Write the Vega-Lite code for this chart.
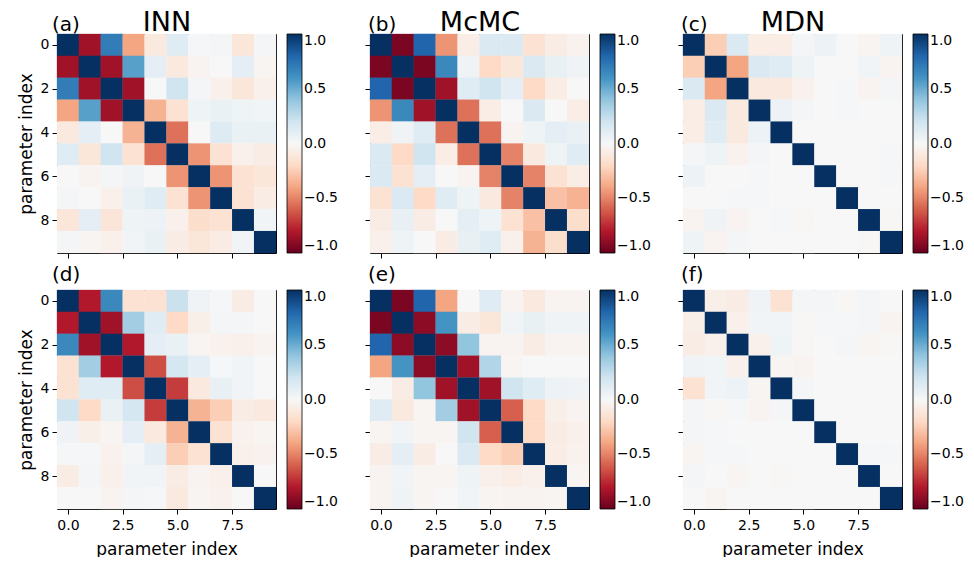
{
"$schema": "https://vega.github.io/schema/vega-lite/v6.json",
"padding": {"left": 17, "top": 8, "right": 0, "bottom": 0},
"background": "white",
"data": {"values": [
{"p":"a","r":0,"c":[0,1,2,3,4,5,6,7,8,9],"v":[1,-0.85,0.7,-0.4,-0.1,0.12,0.01,0.02,-0.12,0.02]},
{"p":"a","r":1,"c":[0,1,2,3,4,5,6,7,8,9],"v":[-0.85,1,-0.85,0.55,0.1,-0.1,-0.03,0.0,0.1,-0.02]},
{"p":"a","r":2,"c":[0,1,2,3,4,5,6,7,8,9],"v":[0.7,-0.85,1,-0.85,0.0,0.2,0.02,-0.05,-0.12,-0.05]},
{"p":"a","r":3,"c":[0,1,2,3,4,5,6,7,8,9],"v":[-0.4,0.55,-0.85,1,-0.35,-0.15,0.05,0.07,0.05,0.03]},
{"p":"a","r":4,"c":[0,1,2,3,4,5,6,7,8,9],"v":[-0.1,0.1,0.0,-0.35,1,-0.55,0.0,0.13,0.07,0.07]},
{"p":"a","r":5,"c":[0,1,2,3,4,5,6,7,8,9],"v":[0.12,-0.12,0.2,-0.15,-0.55,1,-0.45,-0.15,-0.05,-0.08]},
{"p":"a","r":6,"c":[0,1,2,3,4,5,6,7,8,9],"v":[0.0,-0.03,0.02,0.04,0.0,-0.45,1,-0.45,-0.15,-0.12]},
{"p":"a","r":7,"c":[0,1,2,3,4,5,6,7,8,9],"v":[0.02,0.0,-0.05,0.07,0.12,-0.15,-0.45,1,-0.15,-0.08]},
{"p":"a","r":8,"c":[0,1,2,3,4,5,6,7,8,9],"v":[-0.12,0.1,-0.13,0.05,0.06,-0.05,-0.18,-0.15,1,0.03]},
{"p":"a","r":9,"c":[0,1,2,3,4,5,6,7,8,9],"v":[0.02,-0.02,-0.05,0.03,0.07,-0.08,-0.12,-0.08,0.03,1]},
{"p":"b","r":0,"c":[0,1,2,3,4,5,6,7,8,9],"v":[1,-0.95,0.8,-0.45,-0.07,0.15,0.15,-0.15,-0.08,-0.04]},
{"p":"b","r":1,"c":[0,1,2,3,4,5,6,7,8,9],"v":[-0.95,1,-0.95,0.65,0.04,-0.2,-0.12,0.15,0.08,0.04]},
{"p":"b","r":2,"c":[0,1,2,3,4,5,6,7,8,9],"v":[0.8,-0.95,1,-0.85,0.12,0.2,0.1,-0.2,-0.07,0.0]},
{"p":"b","r":3,"c":[0,1,2,3,4,5,6,7,8,9],"v":[-0.45,0.65,-0.85,1,-0.55,-0.07,0.0,0.15,0.0,-0.07]},
{"p":"b","r":4,"c":[0,1,2,3,4,5,6,7,8,9],"v":[-0.07,0.04,0.12,-0.55,1,-0.55,-0.03,0.05,0.1,0.07]},
{"p":"b","r":5,"c":[0,1,2,3,4,5,6,7,8,9],"v":[0.15,-0.2,0.2,-0.07,-0.55,1,-0.5,-0.1,0.05,0.12]},
{"p":"b","r":6,"c":[0,1,2,3,4,5,6,7,8,9],"v":[0.15,-0.15,0.1,0.0,-0.03,-0.5,1,-0.5,-0.15,-0.07]},
{"p":"b","r":7,"c":[0,1,2,3,4,5,6,7,8,9],"v":[-0.15,0.15,-0.2,0.12,0.05,-0.1,-0.5,1,-0.3,-0.35]},
{"p":"b","r":8,"c":[0,1,2,3,4,5,6,7,8,9],"v":[-0.08,0.08,-0.08,0.0,0.1,0.05,-0.15,-0.3,1,-0.18]},
{"p":"b","r":9,"c":[0,1,2,3,4,5,6,7,8,9],"v":[-0.05,0.05,0.0,-0.08,0.08,0.12,-0.05,-0.35,-0.18,1]},
{"p":"c","r":0,"c":[0,1,2,3,4,5,6,7,8,9],"v":[1,-0.25,0.15,-0.07,-0.07,0.02,0.06,0.0,-0.02,0.05]},
{"p":"c","r":1,"c":[0,1,2,3,4,5,6,7,8,9],"v":[-0.25,1,-0.4,0.15,0.12,0.05,0.0,0.0,0.03,-0.03]},
{"p":"c","r":2,"c":[0,1,2,3,4,5,6,7,8,9],"v":[0.15,-0.4,1,-0.1,-0.1,-0.04,0.0,0.01,-0.03,0.02]},
{"p":"c","r":3,"c":[0,1,2,3,4,5,6,7,8,9],"v":[-0.07,0.15,-0.1,1,0.06,0.02,0.0,0.01,0.0,0.0]},
{"p":"c","r":4,"c":[0,1,2,3,4,5,6,7,8,9],"v":[-0.07,0.12,-0.1,0.06,1,0.0,0.0,0.0,0.0,0.0]},
{"p":"c","r":5,"c":[0,1,2,3,4,5,6,7,8,9],"v":[0.02,0.05,-0.04,0.02,0.0,1,0.0,0.0,0.0,0.01]},
{"p":"c","r":6,"c":[0,1,2,3,4,5,6,7,8,9],"v":[0.06,0.0,0.0,0.01,0.0,0.0,1,0.0,0.0,0.01]},
{"p":"c","r":7,"c":[0,1,2,3,4,5,6,7,8,9],"v":[0.0,0.0,0.01,0.01,0.0,0.0,0.0,1,0.0,0.0]},
{"p":"c","r":8,"c":[0,1,2,3,4,5,6,7,8,9],"v":[-0.03,0.04,-0.03,0.0,0.01,-0.01,0.0,0.0,1,-0.01]},
{"p":"c","r":9,"c":[0,1,2,3,4,5,6,7,8,9],"v":[0.05,-0.03,0.02,0.0,0.0,0.0,0.0,0.0,-0.01,1]},
{"p":"d","r":0,"c":[0,1,2,3,4,5,6,7,8,9],"v":[1,-0.8,0.65,-0.15,-0.15,0.22,0.04,0.01,-0.08,0.0]},
{"p":"d","r":1,"c":[0,1,2,3,4,5,6,7,8,9],"v":[-0.8,1,-0.85,0.35,0.12,-0.2,-0.06,0.02,0.02,0.0]},
{"p":"d","r":2,"c":[0,1,2,3,4,5,6,7,8,9],"v":[0.65,-0.85,1,-0.8,0.1,0.07,-0.02,-0.04,-0.05,-0.03]},
{"p":"d","r":3,"c":[0,1,2,3,4,5,6,7,8,9],"v":[-0.15,0.35,-0.8,1,-0.65,0.18,0.1,0.01,0.03,0.0]},
{"p":"d","r":4,"c":[0,1,2,3,4,5,6,7,8,9],"v":[-0.15,0.12,0.12,-0.65,1,-0.7,-0.1,0.08,0.03,0.0]},
{"p":"d","r":5,"c":[0,1,2,3,4,5,6,7,8,9],"v":[0.2,-0.2,0.07,0.18,-0.7,1,-0.35,-0.25,-0.08,-0.1]},
{"p":"d","r":6,"c":[0,1,2,3,4,5,6,7,8,9],"v":[0.04,-0.06,-0.02,0.1,-0.1,-0.35,1,-0.15,-0.04,-0.02]},
{"p":"d","r":7,"c":[0,1,2,3,4,5,6,7,8,9],"v":[0.01,0.01,-0.04,0.02,0.1,-0.25,-0.15,1,-0.05,-0.04]},
{"p":"d","r":8,"c":[0,1,2,3,4,5,6,7,8,9],"v":[-0.08,0.02,-0.05,0.03,0.03,-0.08,-0.03,-0.05,1,0.0]},
{"p":"d","r":9,"c":[0,1,2,3,4,5,6,7,8,9],"v":[0.0,0.0,-0.03,0.02,0.01,-0.1,-0.02,-0.04,0.0,1]},
{"p":"e","r":0,"c":[0,1,2,3,4,5,6,7,8,9],"v":[1,-0.95,0.8,-0.4,0.0,0.12,-0.03,-0.1,-0.03,-0.03]},
{"p":"e","r":1,"c":[0,1,2,3,4,5,6,7,8,9],"v":[-0.95,1,-0.9,0.6,-0.08,-0.12,0.03,0.08,0.04,0.04]},
{"p":"e","r":2,"c":[0,1,2,3,4,5,6,7,8,9],"v":[0.8,-0.9,1,-0.9,0.4,-0.03,-0.03,-0.08,-0.03,-0.03]},
{"p":"e","r":3,"c":[0,1,2,3,4,5,6,7,8,9],"v":[-0.4,0.6,-0.9,1,-0.85,0.3,-0.02,0.0,0.0,0.0]},
{"p":"e","r":4,"c":[0,1,2,3,4,5,6,7,8,9],"v":[0.0,-0.08,0.4,-0.85,1,-0.85,0.2,0.12,0.06,0.04]},
{"p":"e","r":5,"c":[0,1,2,3,4,5,6,7,8,9],"v":[0.12,-0.1,-0.02,0.35,-0.85,1,-0.6,-0.2,-0.06,-0.03]},
{"p":"e","r":6,"c":[0,1,2,3,4,5,6,7,8,9],"v":[-0.02,0.03,-0.02,-0.02,0.2,-0.6,1,-0.2,-0.08,-0.05]},
{"p":"e","r":7,"c":[0,1,2,3,4,5,6,7,8,9],"v":[-0.08,0.1,-0.08,0.0,0.15,-0.2,-0.25,1,-0.07,-0.04]},
{"p":"e","r":8,"c":[0,1,2,3,4,5,6,7,8,9],"v":[-0.03,0.03,-0.02,-0.02,0.05,-0.05,-0.07,-0.05,1,-0.02]},
{"p":"e","r":9,"c":[0,1,2,3,4,5,6,7,8,9],"v":[-0.03,0.04,-0.02,0.0,0.03,-0.02,-0.03,-0.03,-0.02,1]},
{"p":"f","r":0,"c":[0,1,2,3,4,5,6,7,8,9],"v":[1,-0.06,-0.08,0.04,-0.15,0.02,0.02,-0.01,0.02,0.0]},
{"p":"f","r":1,"c":[0,1,2,3,4,5,6,7,8,9],"v":[-0.06,1,-0.05,0.03,0.03,-0.01,0.01,0.01,0.02,-0.03]},
{"p":"f","r":2,"c":[0,1,2,3,4,5,6,7,8,9],"v":[-0.08,-0.05,1,-0.05,0.05,-0.01,0.0,0.02,-0.02,-0.01]},
{"p":"f","r":3,"c":[0,1,2,3,4,5,6,7,8,9],"v":[0.04,0.03,-0.05,1,-0.02,-0.03,0.0,0.0,0.0,0.0]},
{"p":"f","r":4,"c":[0,1,2,3,4,5,6,7,8,9],"v":[-0.15,0.03,0.06,-0.02,1,0.02,0.0,0.0,0.0,0.0]},
{"p":"f","r":5,"c":[0,1,2,3,4,5,6,7,8,9],"v":[0.02,-0.01,0.01,-0.03,0.02,1,0.0,0.0,0.0,0.0]},
{"p":"f","r":6,"c":[0,1,2,3,4,5,6,7,8,9],"v":[0.02,0.01,0.0,0.0,0.0,0.0,1,0.0,0.0,0.0]},
{"p":"f","r":7,"c":[0,1,2,3,4,5,6,7,8,9],"v":[-0.02,0.01,0.01,0.0,0.0,0.0,0.0,1,0.01,0.01]},
{"p":"f","r":8,"c":[0,1,2,3,4,5,6,7,8,9],"v":[0.02,0.0,-0.02,0.0,-0.01,0.0,0.0,0.0,1,0.0]},
{"p":"f","r":9,"c":[0,1,2,3,4,5,6,7,8,9],"v":[0.0,-0.02,0.0,0.0,0.0,0.0,0.0,0.0,0.0,1]}
]},
"transform": [{"flatten": ["c", "v"]}],
"config": {
  "font": "DejaVu Sans",
  "view": {"stroke": null},
  "axis": {"grid": false, "domain": true, "domainColor": "#000", "domainWidth": 1, "tickColor": "#000", "tickSize": 5, "tickWidth": 1, "labelFontSize": 14, "labelColor": "#000", "titleFontSize": 17, "titleFontWeight": "normal", "titleColor": "#000", "labelPadding": 3, "titlePadding": 5, "zindex": 1},
  "legend": {"gradientLength": 219, "gradientThickness": 15, "offset": 11, "padding": 0, "labelFontSize": 14, "labelColor": "#000", "labelOffset": 7, "labelBaseline": "middle", "gradientStrokeColor": "#000", "gradientStrokeWidth": 0.8},
  "title": {"fontSize": 20, "fontWeight": "normal", "anchor": "start", "frame": "group", "color": "#000"}
},
"resolve": {"scale": {"color": "independent", "x": "independent", "y": "independent"}, "legend": {"color": "independent"}},
"spacing": 5,
"vconcat": [
 {"hconcat": [
  {"width": 219, "height": 219, "title": {"text": "(a)", "dx": -5, "offset": -43, "baseline": "alphabetic"},
   "transform": [{"filter": "datum.p == 'a'"}],
   "layer": [
    {"mark": {"type": "rect", "width": 22.2, "height": 22.2},
     "encoding": {
      "x": {"field": "c", "type": "quantitative", "scale": {"domain": [-0.5, 9.5], "nice": false, "zero": false}, "axis": {"values": [0, 2.5, 5, 7.5], "labels": false, "title": null}},
      "y": {"field": "r", "type": "quantitative", "scale": {"domain": [-0.5, 9.5], "reverse": true, "nice": false, "zero": false}, "axis": {"values": [0, 2, 4, 6, 8], "title": "parameter index"}},
      "color": {"field": "v", "type": "quantitative", "scale": {"domain": [-1, -0.8, -0.6, -0.4, -0.2, 0, 0.2, 0.4, 0.6, 0.8, 1], "range": ["#67001f", "#b2182b", "#d6604d", "#f4a582", "#fddbc7", "#f7f7f7", "#d1e5f0", "#92c5de", "#4393c3", "#2166ac", "#053061"], "interpolate": "rgb"}, "legend": {"title": null, "values": [1, 0.5, 0, -0.5, -1], "format": ".1f"}}}},
    {"mark": {"type": "rect", "opacity": 0, "width": 1, "height": 1},
     "encoding": {
      "x": {"field": "c", "type": "quantitative", "axis": {"orient": "top", "ticks": false, "labels": false, "title": "INN", "titleFontSize": 27, "titleBaseline": "alphabetic", "titlePadding": 4}},
      "y": {"field": "r", "type": "quantitative", "axis": {"orient": "right", "ticks": false, "labels": false, "title": null}}}}
   ],
   "resolve": {"axis": {"x": "independent", "y": "independent"}}},
  {"width": 219, "height": 219, "title": {"text": "(b)", "dx": -2, "offset": -43, "baseline": "alphabetic"},
   "transform": [{"filter": "datum.p == 'b'"}],
   "layer": [
    {"mark": {"type": "rect", "width": 22.2, "height": 22.2},
     "encoding": {
      "x": {"field": "c", "type": "quantitative", "scale": {"domain": [-0.5, 9.5], "nice": false, "zero": false}, "axis": {"values": [0, 2.5, 5, 7.5], "labels": false, "title": null}},
      "y": {"field": "r", "type": "quantitative", "scale": {"domain": [-0.5, 9.5], "reverse": true, "nice": false, "zero": false}, "axis": {"values": [0, 2, 4, 6, 8], "labels": false, "title": null}},
      "color": {"field": "v", "type": "quantitative", "scale": {"domain": [-1, -0.8, -0.6, -0.4, -0.2, 0, 0.2, 0.4, 0.6, 0.8, 1], "range": ["#67001f", "#b2182b", "#d6604d", "#f4a582", "#fddbc7", "#f7f7f7", "#d1e5f0", "#92c5de", "#4393c3", "#2166ac", "#053061"], "interpolate": "rgb"}, "legend": {"title": null, "values": [1, 0.5, 0, -0.5, -1], "format": ".1f"}}}},
    {"mark": {"type": "rect", "opacity": 0, "width": 1, "height": 1},
     "encoding": {
      "x": {"field": "c", "type": "quantitative", "axis": {"orient": "top", "ticks": false, "labels": false, "title": "McMC", "titleFontSize": 27, "titleBaseline": "alphabetic", "titlePadding": 4}},
      "y": {"field": "r", "type": "quantitative", "axis": {"orient": "right", "ticks": false, "labels": false, "title": null}}}}
   ],
   "resolve": {"axis": {"x": "independent", "y": "independent"}}},
  {"width": 219, "height": 219, "title": {"text": "(c)", "dx": -2, "offset": -43, "baseline": "alphabetic"},
   "transform": [{"filter": "datum.p == 'c'"}],
   "layer": [
    {"mark": {"type": "rect", "width": 22.2, "height": 22.2},
     "encoding": {
      "x": {"field": "c", "type": "quantitative", "scale": {"domain": [-0.5, 9.5], "nice": false, "zero": false}, "axis": {"values": [0, 2.5, 5, 7.5], "labels": false, "title": null}},
      "y": {"field": "r", "type": "quantitative", "scale": {"domain": [-0.5, 9.5], "reverse": true, "nice": false, "zero": false}, "axis": {"values": [0, 2, 4, 6, 8], "labels": false, "title": null}},
      "color": {"field": "v", "type": "quantitative", "scale": {"domain": [-1, -0.8, -0.6, -0.4, -0.2, 0, 0.2, 0.4, 0.6, 0.8, 1], "range": ["#67001f", "#b2182b", "#d6604d", "#f4a582", "#fddbc7", "#f7f7f7", "#d1e5f0", "#92c5de", "#4393c3", "#2166ac", "#053061"], "interpolate": "rgb"}, "legend": {"title": null, "values": [1, 0.5, 0, -0.5, -1], "format": ".1f"}}}},
    {"mark": {"type": "rect", "opacity": 0, "width": 1, "height": 1},
     "encoding": {
      "x": {"field": "c", "type": "quantitative", "axis": {"orient": "top", "ticks": false, "labels": false, "title": "MDN", "titleFontSize": 27, "titleBaseline": "alphabetic", "titlePadding": 4}},
      "y": {"field": "r", "type": "quantitative", "axis": {"orient": "right", "ticks": false, "labels": false, "title": null}}}}
   ],
   "resolve": {"axis": {"x": "independent", "y": "independent"}}}
 ], "spacing": 26, "resolve": {"scale": {"color": "independent", "x": "independent", "y": "independent"}, "legend": {"color": "independent"}}},
 {"hconcat": [
  {"width": 219, "height": 219, "title": {"text": "(d)", "dx": -5, "offset": -11, "baseline": "alphabetic"},
   "transform": [{"filter": "datum.p == 'd'"}],
   "layer": [
    {"mark": {"type": "rect", "width": 22.2, "height": 22.2},
     "encoding": {
      "x": {"field": "c", "type": "quantitative", "scale": {"domain": [-0.5, 9.5], "nice": false, "zero": false}, "axis": {"values": [0, 2.5, 5, 7.5], "format": ".1f", "title": "parameter index", "labelPadding": 4, "titlePadding": 9}},
      "y": {"field": "r", "type": "quantitative", "scale": {"domain": [-0.5, 9.5], "reverse": true, "nice": false, "zero": false}, "axis": {"values": [0, 2, 4, 6, 8], "title": "parameter index"}},
      "color": {"field": "v", "type": "quantitative", "scale": {"domain": [-1, -0.8, -0.6, -0.4, -0.2, 0, 0.2, 0.4, 0.6, 0.8, 1], "range": ["#67001f", "#b2182b", "#d6604d", "#f4a582", "#fddbc7", "#f7f7f7", "#d1e5f0", "#92c5de", "#4393c3", "#2166ac", "#053061"], "interpolate": "rgb"}, "legend": {"title": null, "values": [1, 0.5, 0, -0.5, -1], "format": ".1f"}}}},
    {"mark": {"type": "rect", "opacity": 0, "width": 1, "height": 1},
     "encoding": {
      "x": {"field": "c", "type": "quantitative", "axis": {"orient": "top", "ticks": false, "labels": false, "title": null}},
      "y": {"field": "r", "type": "quantitative", "axis": {"orient": "right", "ticks": false, "labels": false, "title": null}}}}
   ],
   "resolve": {"axis": {"x": "independent", "y": "independent"}}},
  {"width": 219, "height": 219, "title": {"text": "(e)", "dx": -2, "offset": -11, "baseline": "alphabetic"},
   "transform": [{"filter": "datum.p == 'e'"}],
   "layer": [
    {"mark": {"type": "rect", "width": 22.2, "height": 22.2},
     "encoding": {
      "x": {"field": "c", "type": "quantitative", "scale": {"domain": [-0.5, 9.5], "nice": false, "zero": false}, "axis": {"values": [0, 2.5, 5, 7.5], "format": ".1f", "title": "parameter index", "labelPadding": 4, "titlePadding": 9}},
      "y": {"field": "r", "type": "quantitative", "scale": {"domain": [-0.5, 9.5], "reverse": true, "nice": false, "zero": false}, "axis": {"values": [0, 2, 4, 6, 8], "labels": false, "title": null}},
      "color": {"field": "v", "type": "quantitative", "scale": {"domain": [-1, -0.8, -0.6, -0.4, -0.2, 0, 0.2, 0.4, 0.6, 0.8, 1], "range": ["#67001f", "#b2182b", "#d6604d", "#f4a582", "#fddbc7", "#f7f7f7", "#d1e5f0", "#92c5de", "#4393c3", "#2166ac", "#053061"], "interpolate": "rgb"}, "legend": {"title": null, "values": [1, 0.5, 0, -0.5, -1], "format": ".1f"}}}},
    {"mark": {"type": "rect", "opacity": 0, "width": 1, "height": 1},
     "encoding": {
      "x": {"field": "c", "type": "quantitative", "axis": {"orient": "top", "ticks": false, "labels": false, "title": null}},
      "y": {"field": "r", "type": "quantitative", "axis": {"orient": "right", "ticks": false, "labels": false, "title": null}}}}
   ],
   "resolve": {"axis": {"x": "independent", "y": "independent"}}},
  {"width": 219, "height": 219, "title": {"text": "(f)", "dx": -2, "offset": -11, "baseline": "alphabetic"},
   "transform": [{"filter": "datum.p == 'f'"}],
   "layer": [
    {"mark": {"type": "rect", "width": 22.2, "height": 22.2},
     "encoding": {
      "x": {"field": "c", "type": "quantitative", "scale": {"domain": [-0.5, 9.5], "nice": false, "zero": false}, "axis": {"values": [0, 2.5, 5, 7.5], "format": ".1f", "title": "parameter index", "labelPadding": 4, "titlePadding": 9}},
      "y": {"field": "r", "type": "quantitative", "scale": {"domain": [-0.5, 9.5], "reverse": true, "nice": false, "zero": false}, "axis": {"values": [0, 2, 4, 6, 8], "labels": false, "title": null}},
      "color": {"field": "v", "type": "quantitative", "scale": {"domain": [-1, -0.8, -0.6, -0.4, -0.2, 0, 0.2, 0.4, 0.6, 0.8, 1], "range": ["#67001f", "#b2182b", "#d6604d", "#f4a582", "#fddbc7", "#f7f7f7", "#d1e5f0", "#92c5de", "#4393c3", "#2166ac", "#053061"], "interpolate": "rgb"}, "legend": {"title": null, "values": [1, 0.5, 0, -0.5, -1], "format": ".1f"}}}},
    {"mark": {"type": "rect", "opacity": 0, "width": 1, "height": 1},
     "encoding": {
      "x": {"field": "c", "type": "quantitative", "axis": {"orient": "top", "ticks": false, "labels": false, "title": null}},
      "y": {"field": "r", "type": "quantitative", "axis": {"orient": "right", "ticks": false, "labels": false, "title": null}}}}
   ],
   "resolve": {"axis": {"x": "independent", "y": "independent"}}}
 ], "spacing": 26, "resolve": {"scale": {"color": "independent", "x": "independent", "y": "independent"}, "legend": {"color": "independent"}}}
]
}
